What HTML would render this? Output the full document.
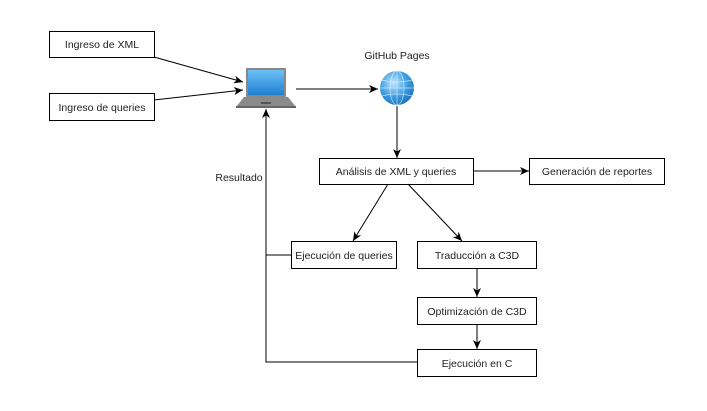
<!DOCTYPE html>
<html><head><meta charset="utf-8"><style>html,body{margin:0;padding:0;background:#fff}svg{display:block}</style></head>
<body>
<svg width="707" height="411" viewBox="0 0 707 411" xmlns="http://www.w3.org/2000/svg" font-family="Liberation Sans, sans-serif" font-size="10.5" fill="#222">
<defs>
<marker id="a" markerWidth="10" markerHeight="10" refX="9" refY="5" orient="auto" markerUnits="userSpaceOnUse"><path d="M0,1 L9,5 L0,9 L2.5,5 Z" fill="#000"/></marker>
<radialGradient id="g" cx="40%" cy="35%" r="70%"><stop offset="0" stop-color="#bfe6ff"/><stop offset="0.6" stop-color="#3a9be0"/><stop offset="1" stop-color="#1d6fb8"/></radialGradient>
<linearGradient id="s" x1="0" y1="0" x2="0" y2="1"><stop offset="0" stop-color="#6cc0f5"/><stop offset="1" stop-color="#1f7fd0"/></linearGradient>
</defs>
<g stroke="#000" stroke-width="1" fill="none">
<line x1="154" y1="57" x2="243" y2="82" marker-end="url(#a)"/>
<line x1="154" y1="100" x2="243" y2="90" marker-end="url(#a)"/>
<line x1="296" y1="89" x2="378" y2="89" marker-end="url(#a)"/>
<line x1="397" y1="106" x2="397" y2="158" marker-end="url(#a)"/>
<line x1="473" y1="171" x2="529" y2="171" marker-end="url(#a)"/>
<line x1="388" y1="184" x2="353" y2="241" marker-end="url(#a)"/>
<line x1="408" y1="184" x2="462" y2="241" marker-end="url(#a)"/>
<line x1="477" y1="268" x2="477" y2="297" marker-end="url(#a)"/>
<line x1="477" y1="324" x2="477" y2="349" marker-end="url(#a)"/>
<polyline points="417,362 266,362 266,109" marker-end="url(#a)"/>
<line x1="291" y1="255" x2="266" y2="255"/>
</g>
<g fill="#fff" stroke="#000" stroke-width="1">
<rect x="49.5" y="31.5" width="105" height="26"/>
<rect x="49.5" y="93.5" width="105" height="27"/>
<rect x="319.5" y="158.5" width="154" height="26"/>
<rect x="529.5" y="158.5" width="135" height="26"/>
<rect x="291.5" y="241.5" width="105" height="27"/>
<rect x="417.5" y="241.5" width="119" height="27"/>
<rect x="417.5" y="297.5" width="119" height="27"/>
<rect x="417.5" y="349.5" width="119" height="27"/>
</g>
<!-- laptop -->
<rect x="246" y="68" width="40" height="29" rx="1" fill="#888"/>
<rect x="248" y="70" width="36" height="25" fill="url(#s)"/>
<path d="M244,97 L288,97 L296,107 L236,107 Z" fill="#8a8a8a"/>
<rect x="236" y="106" width="60" height="2" fill="#666"/>
<rect x="261" y="102" width="10" height="2" fill="#555"/>
<!-- globe -->
<circle cx="397" cy="88" r="17" fill="url(#g)"/>
<g stroke="#dff3ff" stroke-width="0.7" fill="none" opacity="0.8">
<ellipse cx="397" cy="88" rx="7" ry="17"/><line x1="380" y1="88" x2="414" y2="88"/><line x1="397" y1="71" x2="397" y2="105"/>
<path d="M382,80 Q397,84 412,80 M382,96 Q397,92 412,96"/></g>
<g text-anchor="middle">
<text x="102" y="48">Ingreso de XML</text>
<text x="102" y="111">Ingreso de queries</text>
<text x="397" y="59">GitHub Pages</text>
<text x="239" y="181">Resultado</text>
<text x="396" y="175">Análisis de XML y queries</text>
<text x="597" y="175">Generación de reportes</text>
<text x="344" y="259">Ejecución de queries</text>
<text x="477" y="259">Traducción a C3D</text>
<text x="477" y="315">Optimización de C3D</text>
<text x="477" y="367">Ejecución en C</text>
</g>
</svg>
</body></html>
